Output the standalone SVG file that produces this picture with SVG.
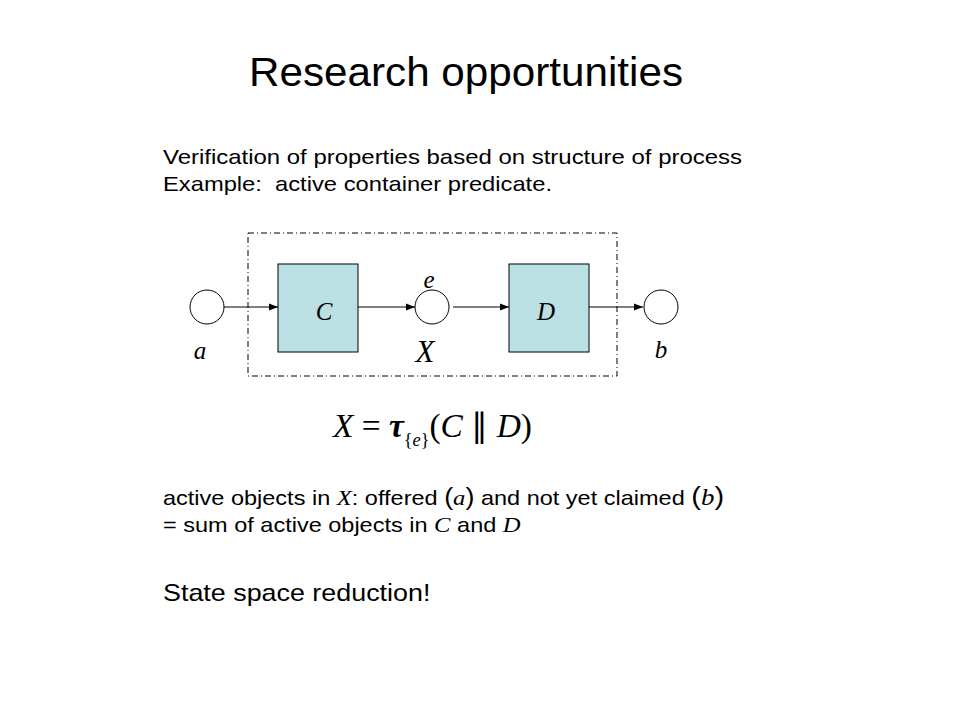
<svg xmlns="http://www.w3.org/2000/svg" width="960" height="720" viewBox="0 0 960 720">
<style>
.sans{font-family:"Liberation Sans",Arial,sans-serif;fill:#000}
.math{font-family:"Liberation Serif","Times New Roman",serif;font-style:italic;fill:#000}
.box{fill:#bbe0e3;stroke:#000;stroke-width:1}
.circ{fill:#fff;stroke:#000;stroke-width:1}
.conn{stroke:#000;stroke-width:1;fill:none;marker-end:url(#arr)}
</style>
<defs>
<marker id="arr" markerWidth="10" markerHeight="8" refX="9" refY="4" orient="auto" markerUnits="userSpaceOnUse">
<path d="M0,0.5 L9,4 L0,7.5 z" fill="#000"/>
</marker>
</defs>
<rect width="960" height="720" fill="#fff"/>
<text class="sans" x="249" y="86" font-size="41" textLength="434" lengthAdjust="spacingAndGlyphs">Research opportunities</text>
<text class="sans" x="163" y="164" font-size="21" textLength="579" lengthAdjust="spacingAndGlyphs">Verification of properties based on structure of process</text>
<text class="sans" x="163" y="191" font-size="21" textLength="389" lengthAdjust="spacingAndGlyphs" xml:space="preserve">Example:  active container predicate.</text>

<g id="container">
<rect x="248" y="233" width="369" height="143" fill="none" stroke="#000" stroke-width="1" stroke-dasharray="6,3,1,3"/>
<text class="math" x="425" y="362" font-size="31" text-anchor="middle" fill="#111">X</text>
</g>
<g id="connectors">
<line class="conn" x1="224" y1="307" x2="278" y2="307"/>
<line class="conn" x1="358" y1="307" x2="415" y2="307"/>
<line class="conn" x1="453" y1="307" x2="509" y2="307"/>
<line class="conn" x1="589" y1="307" x2="643" y2="307"/>
</g>
<g id="node-a">
<circle class="circ" cx="207" cy="307" r="17"/>
<text class="math" x="200" y="359" font-size="25" text-anchor="middle">a</text>
</g>
<g id="node-C">
<rect class="box" x="278" y="264" width="80" height="88"/>
<text class="math" x="324" y="320" font-size="25" text-anchor="middle">C</text>
</g>
<g id="node-e">
<circle class="circ" cx="432" cy="307" r="17"/>
<text class="math" x="429" y="288" font-size="25" text-anchor="middle">e</text>
</g>
<g id="node-D">
<rect class="box" x="509" y="264" width="80" height="88"/>
<text class="math" x="546" y="320" font-size="25" text-anchor="middle">D</text>
</g>
<g id="node-b">
<circle class="circ" cx="661" cy="307" r="17"/>
<text class="math" x="661" y="358" font-size="25" text-anchor="middle">b</text>
</g>

<text x="333" y="437" font-family="'Liberation Serif',serif" font-size="33" fill="#000" textLength="199" lengthAdjust="spacingAndGlyphs"><tspan font-style="italic">X</tspan><tspan> = </tspan><tspan font-style="italic" font-weight="bold">τ</tspan><tspan font-size="18" dy="9">{</tspan><tspan font-size="18" font-style="italic">e</tspan><tspan font-size="18">}</tspan><tspan dy="-9">(</tspan><tspan font-style="italic">C</tspan><tspan> ∥ </tspan><tspan font-style="italic">D</tspan><tspan>)</tspan></text>

<g transform="translate(163,505) scale(1.12,1)">
<text class="sans" x="0" y="0" font-size="21">active objects in <tspan class="math" font-size="22">X</tspan>: offered <tspan font-size="24">(</tspan><tspan class="math" font-size="22">a</tspan><tspan font-size="24">)</tspan> and not yet claimed <tspan font-size="26">(</tspan><tspan class="math" font-size="24">b</tspan><tspan font-size="26">)</tspan></text>
</g>
<g transform="translate(163,532) scale(1.12,1)">
<text class="sans" x="0" y="0" font-size="21">= sum of active objects in <tspan class="math" font-size="22">C</tspan> and <tspan class="math" font-size="22">D</tspan></text>
</g>
<g transform="translate(163,601) scale(1.12,1)">
<text class="sans" x="0" y="0" font-size="24">State space reduction!</text>
</g>
</svg>
